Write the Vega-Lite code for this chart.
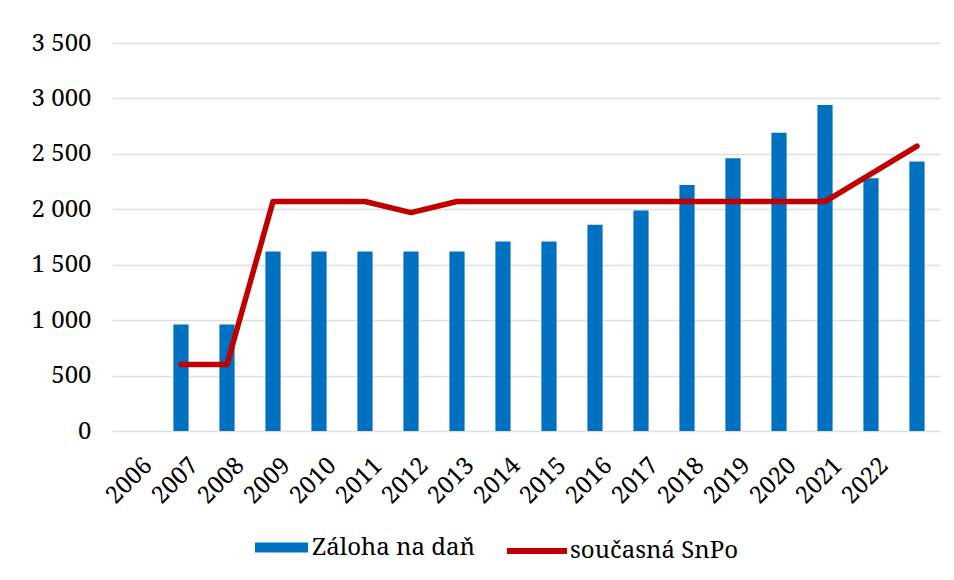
{
  "$schema": "https://vega.github.io/schema/vega-lite/v6.json",
  "autosize": "none",
  "width": 828,
  "height": 388,
  "padding": {"left": 112, "top": 43, "right": 14, "bottom": 149},
  "background": "white",
  "config": {
    "view": {"stroke": null},
    "font": "Noto Serif",
    "axis": {"labelFont": "Noto Serif", "labelFontSize": 24, "labelColor": "#000000"},
    "legend": {"labelFont": "Noto Serif", "labelFontSize": 24, "labelColor": "#000000", "labelLimit": 400}
  },
  "data": {
    "values": [
      {"year": "2006", "zaloha": null, "snpo": null},
      {"year": "2007", "zaloha": 960, "snpo": 600},
      {"year": "2008", "zaloha": 960, "snpo": 600},
      {"year": "2009", "zaloha": 1620, "snpo": 2070},
      {"year": "2010", "zaloha": 1620, "snpo": 2070},
      {"year": "2011", "zaloha": 1620, "snpo": 2070},
      {"year": "2012", "zaloha": 1620, "snpo": 1970},
      {"year": "2013", "zaloha": 1620, "snpo": 2070},
      {"year": "2014", "zaloha": 1710, "snpo": 2070},
      {"year": "2015", "zaloha": 1710, "snpo": 2070},
      {"year": "2016", "zaloha": 1860, "snpo": 2070},
      {"year": "2017", "zaloha": 1990, "snpo": 2070},
      {"year": "2018", "zaloha": 2220, "snpo": 2070},
      {"year": "2019", "zaloha": 2460, "snpo": 2070},
      {"year": "2020", "zaloha": 2690, "snpo": 2070},
      {"year": "2021", "zaloha": 2940, "snpo": 2070},
      {"year": "2022", "zaloha": 2280, "snpo": 2320},
      {"year": "2023", "zaloha": 2430, "snpo": 2570}
    ]
  },
  "encoding": {
    "x": {
      "field": "year",
      "type": "ordinal",
      "scale": {
        "domain": ["2006","2007","2008","2009","2010","2011","2012","2013","2014","2015","2016","2017","2018","2019","2020","2021","2022","2023"],
        "paddingInner": 0.67,
        "paddingOuter": 0.335
      },
      "axis": {
        "title": null,
        "labelAngle": -45,
        "labelExpr": "datum.value == '2023' ? '' : datum.label",
        "ticks": false,
        "domain": false,
        "labelPadding": 22,
        "labelOffset": 5,
        "grid": false
      }
    }
  },
  "layer": [
    {
      "mark": {"type": "bar"},
      "encoding": {
        "y": {
          "field": "zaloha",
          "type": "quantitative",
          "scale": {"domain": [0, 3500], "nice": false},
          "axis": {
            "title": null,
            "values": [0, 500, 1000, 1500, 2000, 2500, 3000, 3500],
            "labelExpr": "replace(format(datum.value, ','), ',', ' ')",
            "domain": false,
            "ticks": false,
            "labelPadding": 21,
            "grid": true,
            "gridColor": "#dcdfe5",
            "gridWidth": 1.5
          }
        },
        "fill": {
          "datum": "Záloha na daň",
          "type": "nominal",
          "scale": {"range": ["#0070c0"]},
          "legend": {
            "title": null,
            "orient": "none",
            "legendX": 143,
            "legendY": 478,
            "symbolType": "M-1,-0.19H1V0.19H-1Z",
            "symbolSize": 2809,
            "symbolStrokeWidth": 0,
            "labelOffset": 4
          }
        }
      }
    },
    {
      "mark": {"type": "line", "strokeWidth": 5.5, "strokeCap": "round", "strokeJoin": "round"},
      "encoding": {
        "y": {"field": "snpo", "type": "quantitative"},
        "stroke": {
          "datum": "současná SnPo",
          "type": "nominal",
          "scale": {"range": ["#c00000"]},
          "legend": {
            "title": null,
            "orient": "none",
            "legendX": 392,
            "legendY": 475,
            "symbolType": "stroke",
            "symbolSize": 3600,
            "symbolStrokeWidth": 6,
            "labelOffset": 0
          }
        }
      }
    }
  ]
}
